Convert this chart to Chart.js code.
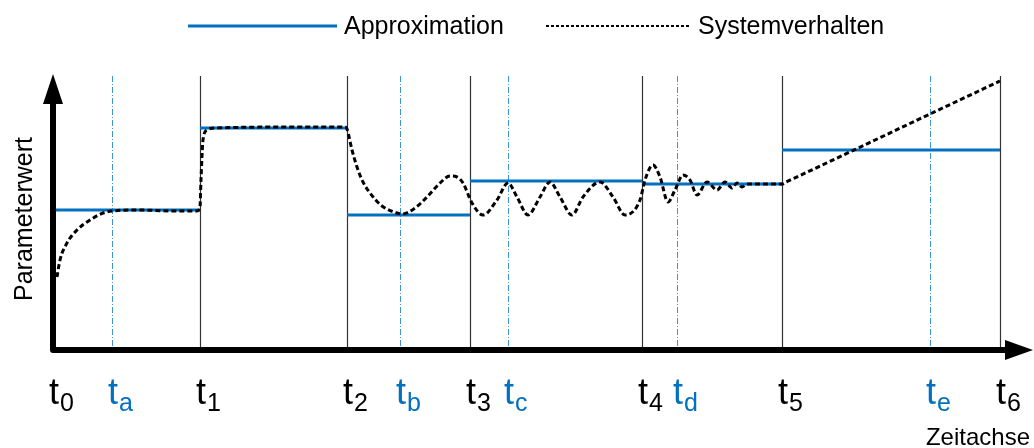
<!DOCTYPE html>
<html>
<head>
<meta charset="utf-8">
<script src="https://cdn.jsdelivr.net/npm/chart.js@4"></script>
<style>
    html, body { margin: 0; padding: 0; background: #fff; }
    #wrap { width: 1034px; height: 448px; position: relative; }
</style>
</head>
<body>
<div id="wrap"><canvas id="parameterChart"></canvas></div>
<script>
// time marks (x units) and their subscripts
const mainTimes = [0, 147, 294, 417, 589, 729, 947];
const mainLabels = ['0', '1', '2', '3', '4', '5', '6'];
const auxTimes = [59, 347, 455, 624, 877];
const auxLabels = ['a', 'b', 'c', 'd', 'e'];

// step approximation, one level per interval t0..t6
const approxLevels = [140, 222, 135, 169, 166, 200];

// measured system behaviour
const systemX = [4, 7, 14, 24, 37, 50, 59, 87, 117, 144, 147, 148, 150, 154, 162, 247, 292,
    294, 299, 304, 310, 317, 329, 344, 349, 362, 374, 387, 397, 404, 410, 419, 430, 444, 455,
    464, 475, 487, 497, 507, 519, 530, 547, 560, 572, 587, 592, 600, 607, 615, 622, 630, 637,
    644, 654, 664, 672, 679, 684, 689, 694, 729, 733, 747, 877, 947];
const systemY = [73, 90, 107, 120, 130, 137, 139, 140, 139, 139, 143, 170, 210, 220, 222, 223, 223,
    221, 200, 183, 168, 157, 144, 137, 136, 142, 153, 167, 174, 173, 167, 147, 135, 150, 167,
    153, 135, 153, 168, 153, 135, 153, 168, 153, 135, 150, 170, 185, 173, 148, 160, 175, 170,
    155, 168, 160, 168, 162, 167, 163, 166, 166, 168, 174.5, 236, 269];

const BLUE = '#0070C0';
const FONT = '"Liberation Sans", Arial, sans-serif';

const approxData = [];
approxLevels.forEach((level, i) => {
    approxData.push({ x: mainTimes[i], y: level });
    approxData.push({ x: mainTimes[i + 1], y: level });
    if (i < approxLevels.length - 1) approxData.push({ x: mainTimes[i + 1], y: null });
});
const systemData = systemX.map((x, i) => ({ x: x, y: systemY[i] }));

function drawTimeLabel(ctx, x, sub, color) {
    const left = x - 4;
    ctx.fillStyle = color;
    ctx.textAlign = 'left';
    ctx.textBaseline = 'alphabetic';
    ctx.font = '36px ' + FONT;
    ctx.fillText('t', left, 404);
    const w = ctx.measureText('t').width;
    ctx.font = '25px ' + FONT;
    ctx.fillText(sub, left + w + 1, 411);
}

const diagramPlugin = {
    id: 'diagram',
    beforeDatasetsDraw(chart) {
        const ctx = chart.ctx;
        const xs = chart.scales.x, ys = chart.scales.y;
        const top = ys.getPixelForValue(274), bottom = ys.getPixelForValue(0);
        ctx.save();
        ctx.strokeStyle = '#333';
        ctx.lineWidth = 1.2;
        mainTimes.slice(1).forEach(t => {
            const px = Math.round(xs.getPixelForValue(t)) + 0.5;
            ctx.beginPath(); ctx.moveTo(px, top); ctx.lineTo(px, bottom); ctx.stroke();
        });
        ctx.strokeStyle = '#3C93D8';
        ctx.lineWidth = 1;
        ctx.setLineDash([6, 2, 1, 2]);
        auxTimes.forEach(t => {
            const px = Math.round(xs.getPixelForValue(t)) + 0.5;
            ctx.beginPath(); ctx.moveTo(px, top); ctx.lineTo(px, bottom); ctx.stroke();
        });
        ctx.restore();
    },
    afterDatasetsDraw(chart) {
        const ctx = chart.ctx;
        const xs = chart.scales.x;
        const { left, right, top, bottom } = chart.chartArea;
        ctx.save();
        // axes with arrow heads
        ctx.strokeStyle = '#000';
        ctx.fillStyle = '#000';
        ctx.lineWidth = 6;
        ctx.lineJoin = 'round';
        ctx.lineCap = 'round';
        ctx.beginPath();
        ctx.moveTo(left, top + 30);
        ctx.lineTo(left, bottom);
        ctx.lineTo(right - 28, bottom);
        ctx.stroke();
        ctx.beginPath();
        ctx.moveTo(left - 10, top + 30);
        ctx.lineTo(left + 10, top + 30);
        ctx.lineTo(left, top);
        ctx.closePath();
        ctx.fill();
        ctx.beginPath();
        ctx.moveTo(right - 28, bottom - 10);
        ctx.lineTo(right - 28, bottom + 10);
        ctx.lineTo(right, bottom);
        ctx.closePath();
        ctx.fill();

        // tick labels
        mainTimes.forEach((t, i) => drawTimeLabel(ctx, xs.getPixelForValue(t), mainLabels[i], '#000'));
        auxTimes.forEach((t, i) => drawTimeLabel(ctx, xs.getPixelForValue(t), auxLabels[i], BLUE));

        // axis titles
        ctx.fillStyle = '#000';
        ctx.font = '24px ' + FONT;
        ctx.textAlign = 'right';
        ctx.fillText('Zeitachse', 1030, 445);
        ctx.translate(32, 219);
        ctx.rotate(-Math.PI / 2);
        ctx.textAlign = 'center';
        ctx.font = '25px ' + FONT;
        ctx.fillText('Parameterwert', 0, 0);
        ctx.restore();
    },
    afterDraw(chart) {
        const ctx = chart.ctx;
        const ds = chart.data.datasets;
        const items = [
            { d: ds[1], x0: 188, x1: 337, tx: 344, w: 3, dash: [] },
            { d: ds[0], x0: 546, x1: 691, tx: 698, w: 2, dash: [3, 2] }
        ];
        ctx.save();
        items.forEach(it => {
            ctx.strokeStyle = it.d.borderColor;
            ctx.lineWidth = it.w;
            ctx.setLineDash(it.dash);
            ctx.beginPath(); ctx.moveTo(it.x0, 26); ctx.lineTo(it.x1, 26); ctx.stroke();
            ctx.fillStyle = '#000';
            ctx.font = '25px ' + FONT;
            ctx.textAlign = 'left';
            ctx.textBaseline = 'alphabetic';
            ctx.fillText(it.d.label, it.tx, 34);
        });
        ctx.restore();
    }
};

const ctx = document.getElementById('parameterChart').getContext('2d');
window.parameterChart = new Chart(ctx, {
    type: 'line',
    data: {
        datasets: [{
            label: 'Systemverhalten',
            data: systemData,
            borderColor: '#000',
            borderWidth: 3,
            borderDash: [5, 3],
            pointRadius: 0,
            cubicInterpolationMode: 'monotone',
            order: 0
        }, {
            label: 'Approximation',
            data: approxData,
            borderColor: BLUE,
            borderWidth: 3,
            pointRadius: 0,
            spanGaps: false,
            order: 1
        }]
    },
    options: {
        responsive: true,
        maintainAspectRatio: false,
        animation: false,
        layout: { padding: { left: 53, right: 1, top: 74, bottom: 98 } },
        scales: {
            x: { type: 'linear', min: 0, max: 980, display: false },
            y: { min: 0, max: 276, display: false }
        },
        plugins: {
            legend: { display: false },
            tooltip: { enabled: false }
        }
    },
    plugins: [diagramPlugin]
});
</script>
</body>
</html>
